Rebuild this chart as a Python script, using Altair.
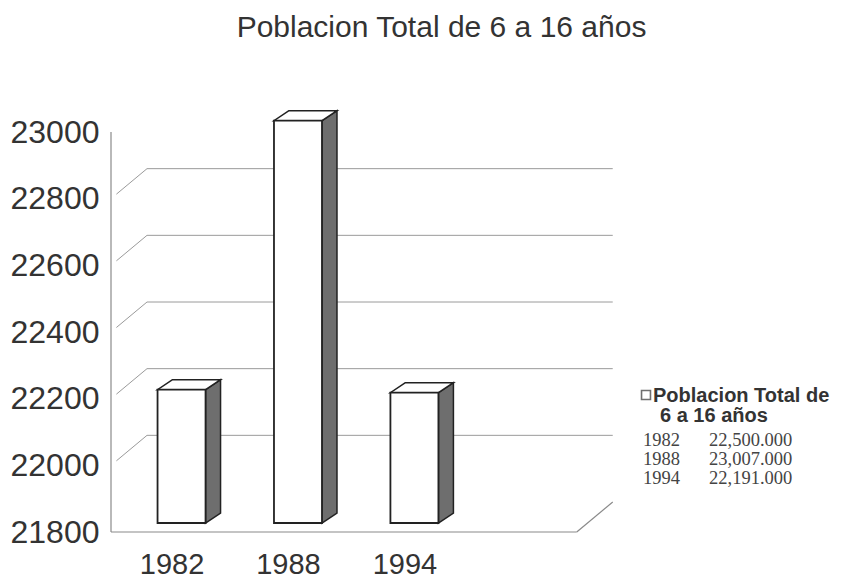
import altair as alt
import pandas as pd

# ---------------- data ----------------
title_text = "Poblacion Total de 6 a 16 años"
years = ["1982", "1988", "1994"]
values = [22200, 23007, 22191]            # bar heights as drawn
table_labels = ["22,500.000", "23,007.000", "22,191.000"]   # data-table text as printed
tick_values = [21800, 22000, 22200, 22400, 22600, 22800, 23000]
grid_values = [22000, 22200, 22400, 22600, 22800]
legend_title = ["Poblacion Total de", "6 a 16 años"]

# ---------------- geometry / style constants ----------------
BASE = 21800
X_MIN, X_MAX = -0.52, 3.80
Y_MAX = 23120
W, H = 503, 440
PXX = (X_MAX - X_MIN) / W          # x units per pixel
PXY = (Y_MAX - BASE) / H           # y units per pixel
FLOOR_RIGHT = 3.48
WALL_DX, WALL_DY = 36 * PXX, 30 * PXY
BAR_W = 48 * PXX
BAR_IN_X, BAR_IN_Y = 10 * PXX, 9 * PXY
BAR_DX, BAR_DY = 15 * PXX, 10 * PXY

xscale = alt.Scale(domain=[X_MIN, X_MAX], nice=False, zero=False)
yscale = alt.Scale(domain=[BASE, Y_MAX], nice=False, zero=False)
xaxis = alt.Axis(values=list(range(len(years))), labelExpr=f"{years}[datum.value]",
                 domain=False, ticks=False, grid=False, title=None,
                 labelFont="Liberation Sans", labelFontSize=29, labelColor="#333",
                 labelPadding=18)
yaxis = alt.Axis(values=tick_values, format="d", domain=False, ticks=False, grid=False,
                 title=None, labelFont="Liberation Sans", labelFontSize=32,
                 labelColor="#333", labelPadding=12)


def X(f):
    return alt.X(f, type="quantitative", scale=xscale, axis=xaxis)


def Y(f):
    return alt.Y(f, type="quantitative", scale=yscale, axis=yaxis)


# ---------------- tables ----------------
grid_df = pd.DataFrame({"v": grid_values})
grid_df["yb"] = grid_df["v"] + WALL_DY
grid_df["xl"] = X_MIN + WALL_DX
grid_df["xr"] = FLOOR_RIGHT + WALL_DX
grid_df["xd0"] = X_MIN + 0.15 * WALL_DX
grid_df["yd0"] = grid_df["v"] + 0.15 * WALL_DY

front_rows, side_rows, top_rows = [], [], []
for i, (yr, v) in enumerate(zip(years, values)):
    x0 = i + BAR_IN_X - BAR_W / 2
    x1 = x0 + BAR_W
    b = BASE + BAR_IN_Y
    t = v + BAR_IN_Y
    front_rows.append({"year": yr, "x0": x0, "x1": x1, "top": t, "base": b})
    side_rows += [{"year": yr, "sx": x1, "st": t, "sb": b},
                  {"year": yr, "sx": x1 + BAR_DX, "st": t + BAR_DY, "sb": b + BAR_DY}]
    top_rows += [{"year": yr, "ty": t, "tx0": x0, "tx1": x1},
                 {"year": yr, "ty": t + BAR_DY, "tx0": x0 + BAR_DX, "tx1": x1 + BAR_DX}]
front_df = pd.DataFrame(front_rows)
side_df = pd.DataFrame(side_rows)
top_df = pd.DataFrame(top_rows)

floor_df = pd.DataFrame({"fx0": [X_MIN, FLOOR_RIGHT], "fy0": [BASE, BASE],
                         "fx1": [FLOOR_RIGHT, FLOOR_RIGHT + WALL_DX],
                         "fy1": [BASE, BASE + WALL_DY]})
axis_df = pd.DataFrame({"ax": [X_MIN], "a0": [tick_values[0]], "a1": [tick_values[-1]]})
one = pd.DataFrame({"k": [0]})

# ---------------- layers ----------------
back_grid = alt.Chart(grid_df).mark_rule(color="#9a9a9a", strokeWidth=1).encode(
    x=X("xl"), x2="xr", y=Y("yb"))
diag = alt.Chart(grid_df).mark_rule(color="#9a9a9a", strokeWidth=1).encode(
    x=X("xd0"), y=Y("yd0"), x2="xl", y2="yb")
floor = alt.Chart(floor_df).mark_rule(color="#8a8a8a", strokeWidth=1.2).encode(
    x=X("fx0"), y=Y("fy0"), x2="fx1", y2="fy1")
axis_line = alt.Chart(axis_df).mark_rule(color="#8a8a8a", strokeWidth=1.2).encode(
    x=X("ax"), y=Y("a0"), y2="a1")

side = alt.Chart(side_df).mark_area(fill="#6e6e6e", stroke="#222", strokeWidth=1.5,
                                    opacity=1).encode(
    x=X("sx"), y=Y("st"), y2="sb", detail="year:N")
top = alt.Chart(top_df).mark_area(orient="horizontal", fill="white", stroke="#222",
                                  strokeWidth=1.5, opacity=1).encode(
    y=Y("ty"), x=X("tx0"), x2="tx1", detail="year:N")
front = alt.Chart(front_df).mark_rect(fill="white", stroke="#222", strokeWidth=1.8).encode(
    x=X("x0"), x2="x1", y=Y("top"), y2="base")

# legend / data table (text, placed to the right of the plot)
leg_sq = alt.Chart(one).mark_square(filled=False, stroke="#333", strokeWidth=1.6, size=80).encode(
    x=alt.value(535), y=alt.value(303))
leg_t1 = alt.Chart(one).mark_text(text=legend_title[0], align="left", baseline="alphabetic",
                                  font="Liberation Sans", fontSize=20, fontWeight="bold",
                                  color="#333").encode(x=alt.value(542), y=alt.value(310))
leg_t2 = alt.Chart(one).mark_text(text=legend_title[1], align="left", baseline="alphabetic",
                                  font="Liberation Sans", fontSize=20, fontWeight="bold",
                                  color="#333").encode(x=alt.value(549), y=alt.value(330))
leg_years = alt.Chart(one).mark_text(text=years, align="left", baseline="alphabetic",
                                     font="Liberation Serif", fontSize=18.5, lineHeight=19,
                                     color="#444").encode(x=alt.value(532), y=alt.value(354))
leg_vals = alt.Chart(one).mark_text(text=table_labels, align="left", baseline="alphabetic",
                                    font="Liberation Serif", fontSize=18.5, lineHeight=19,
                                    color="#444").encode(x=alt.value(598), y=alt.value(354))

chart = alt.layer(back_grid, diag, floor, axis_line, side, top, front,
                  leg_sq, leg_t1, leg_t2, leg_years, leg_vals).properties(
    width=W, height=H,
    background="white",
    autosize=alt.AutoSizeParams(type="none"),
    padding={"left": 103, "top": 84, "right": 224, "bottom": 47},
    title=alt.TitleParams(title_text, font="Liberation Sans", fontSize=30,
                          fontWeight="normal", color="#333", anchor="middle",
                          dx=79, offset=49),
).configure_view(stroke=None)

chart.save("out.html", embed_options={"renderer": "svg", "actions": False})
